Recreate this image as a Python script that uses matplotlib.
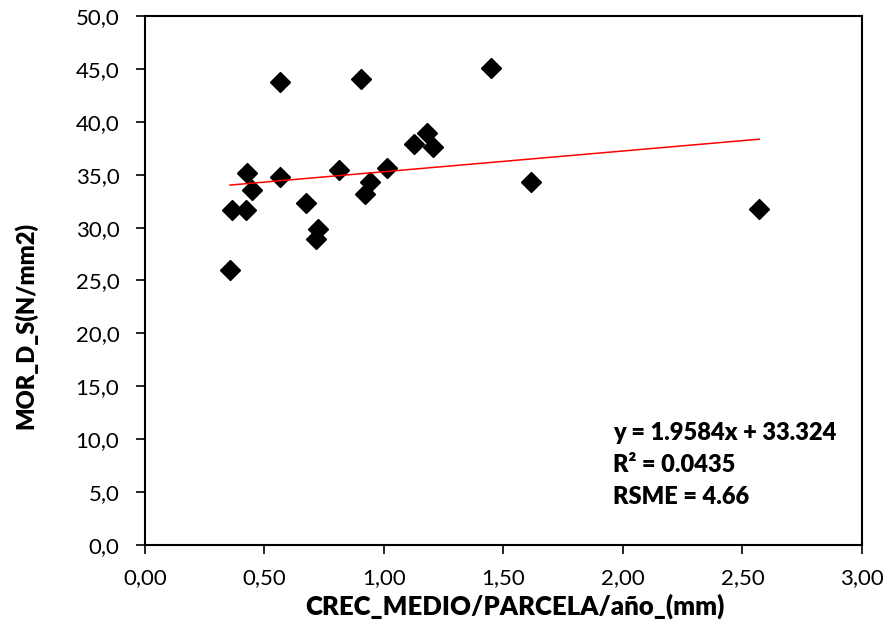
import matplotlib.pyplot as plt
from matplotlib.ticker import FuncFormatter

# data
crec = [0.356, 0.365, 0.423, 0.425, 0.448, 0.566, 0.566, 0.672, 0.724, 0.716,
        0.813, 0.905, 0.919, 0.941, 1.011, 1.127, 1.179, 1.204, 1.446, 1.615, 2.57]
mor = [26.0, 31.7, 31.7, 35.2, 33.55, 43.8, 34.8, 32.3, 29.9, 28.9,
       35.4, 44.0, 33.2, 34.3, 35.6, 37.9, 38.9, 37.6, 45.05, 34.3, 31.8]

slope = 1.9584
intercept = 33.324
r2 = 0.0435
rsme = 4.66

plt.rcParams['font.family'] = ['Lato', 'DejaVu Sans']

fig = plt.figure(figsize=(8.89, 6.38), dpi=100)
ax = fig.add_axes([0.1631, 0.1458, 0.8065, 0.8291])

ax.plot(crec, mor, linestyle='none', marker='D', markersize=10, color='black')

x_fit = [min(crec), max(crec)]
y_fit = [slope * v + intercept for v in x_fit]
ax.plot(x_fit, y_fit, color='red', linewidth=1.1)

ax.set_xlim(0, 3)
ax.set_ylim(0, 50)
ax.set_xticks([0, 0.5, 1, 1.5, 2, 2.5, 3])
ax.set_yticks(range(0, 51, 5))
ax.xaxis.set_major_formatter(FuncFormatter(lambda v, p: f"{v:.2f}".replace('.', ',')))
ax.yaxis.set_major_formatter(FuncFormatter(lambda v, p: f"{v:.1f}".replace('.', ',')))
ax.tick_params(direction='out', length=6.5, width=1.2, labelsize=16)
ax.tick_params(axis='x', pad=10)
ax.tick_params(axis='y', pad=12)

for s in ax.spines.values():
    s.set_linewidth(1.5)

ax.set_xlabel('CREC_MEDIO/PARCELA/año_(mm)', fontsize=18.5, fontweight='heavy')
ax.set_ylabel('MOR_D_S(N/mm2)', fontsize=17, fontweight='heavy')
ax.xaxis.set_label_coords(0.516, -0.092)
ax.yaxis.set_label_coords(-0.15, 0.415)

eq = f"y = {slope}x + {intercept}\nR² = {r2}\nRSME = {rsme}"
ax.text(0.653, 0.151, eq, transform=ax.transAxes, fontsize=17, fontweight='heavy',
        va='center', ha='left', linespacing=1.56)

fig.savefig('out.png', dpi=100)
